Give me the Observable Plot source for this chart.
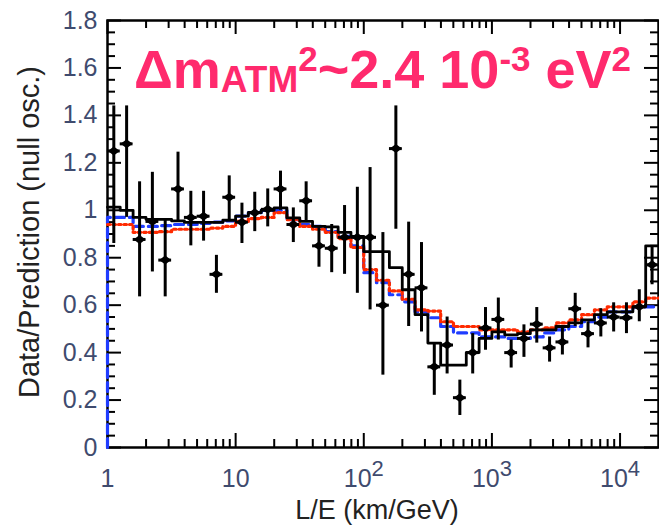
<!DOCTYPE html>
<html><head><meta charset="utf-8">
<script src="https://cdn.jsdelivr.net/npm/d3@7"></script>
<script src="https://cdn.jsdelivr.net/npm/@observablehq/plot@0.6"></script>
<style>
body{margin:0;background:#fff;}
svg{display:block;}
</style>
</head><body><div id="chart"></div>
<script>
// L/E bin centres (km/GeV)
const binCenters = [1.12, 1.41, 1.78, 2.24, 2.82, 3.55, 4.47, 5.62, 7.08, 8.91,
  11.2, 14.1, 17.8, 22.4, 28.2, 35.5, 44.7, 56.2, 70.8, 89.1,
  112, 141, 178, 224, 282, 355, 447, 562, 708, 891,
  1122, 1413, 1778, 2239, 2818, 3548, 4467, 5623, 7079, 8913,
  11220, 14130, 17780];
// Data/Prediction points with error bars
const dataValue = [1.25, 1.28, 0.877, 0.953, 0.79, 1.09, 0.97, 0.975, 0.73, 1.055,
  0.95, 0.99, 1.004, 1.09, 0.94, 1.04, 0.85, 0.84, 0.886, 0.886,
  0.886, 0.60, 1.26, 0.73, 0.673, 0.34, 0.432, 0.21, 0.40, 0.504,
  0.54, 0.40, 0.46, 0.52, 0.42, 0.445, 0.585, 0.48, 0.525, 0.55,
  0.547, 0.593, 0.77];
const errLow = [0.86, 0.97, 0.635, 0.74, 0.635, 0.95, 0.85, 0.87, 0.65, 0.96,
  0.86, 0.91, 0.93, 1.0, 0.864, 0.95, 0.76, 0.737, 0.73, 0.65,
  0.58, 0.305, 0.92, 0.51, 0.487, 0.22, 0.31, 0.135, 0.31, 0.41,
  0.453, 0.335, 0.38, 0.44, 0.36, 0.39, 0.51, 0.42, 0.466, 0.487,
  0.48, 0.53, 0.686];
const errHigh = [1.44, 1.44, 1.12, 1.16, 0.96, 1.245, 1.08, 1.08, 0.81, 1.145,
  1.03, 1.076, 1.09, 1.165, 1.01, 1.12, 0.93, 0.94, 1.02, 1.097,
  1.18, 0.906, 1.44, 0.95, 0.864, 0.44, 0.55, 0.284, 0.48, 0.59,
  0.63, 0.453, 0.517, 0.59, 0.466, 0.504, 0.65, 0.53, 0.585, 0.61,
  0.61, 0.665, 0.85];
// Step histograms (one value per bin)
const histBlack = [1.013, 1.0, 0.97, 0.962, 0.962, 0.955, 0.949, 0.949, 0.949, 0.958,
  0.975, 0.99, 1.0, 1.01, 0.968, 0.953, 0.932, 0.93, 0.907, 0.89,
  0.826, 0.826, 0.758, 0.665, 0.56, 0.44, 0.347, 0.347, 0.40, 0.46,
  0.487, 0.475, 0.48, 0.496, 0.496, 0.51, 0.525, 0.538, 0.56, 0.572,
  0.572, 0.593, 0.85];
const histBlue = [0.97, 0.97, 0.932, 0.932, 0.935, 0.94, 0.94, 0.945, 0.95, 0.955,
  0.975, 0.99, 1.0, 1.0, 0.96, 0.94, 0.932, 0.91, 0.89, 0.85,
  0.737, 0.695, 0.644, 0.614, 0.572, 0.547, 0.51, 0.483, 0.483, 0.466,
  0.466, 0.46, 0.46, 0.466, 0.483, 0.496, 0.51, 0.53, 0.55, 0.572,
  0.572, 0.593, 0.593];
const histRed = [0.94, 0.94, 0.907, 0.907, 0.91, 0.92, 0.92, 0.92, 0.925, 0.932,
  0.953, 0.965, 0.97, 0.99, 0.96, 0.932, 0.92, 0.907, 0.88, 0.843,
  0.75, 0.705, 0.66, 0.625, 0.58, 0.575, 0.53, 0.51, 0.51, 0.496,
  0.496, 0.496, 0.487, 0.496, 0.504, 0.525, 0.538, 0.56, 0.58, 0.593,
  0.593, 0.614, 0.63];
// Axes
const xDomain = [1, 19953];
const yDomain = [0, 1.8];
const xTicks = [1, 10, 100, 1000, 10000];
const xTickLabels = ["1", "10", "10^2", "10^3", "10^4"];
const xMinorTicks = [2,3,4,5,6,7,8,9,20,30,40,50,60,70,80,90,200,300,400,500,600,700,800,900,
  2000,3000,4000,5000,6000,7000,8000,9000];
const yTicks = [0, 0.2, 0.4, 0.6, 0.8, 1.0, 1.2, 1.4, 1.6, 1.8];
const yMinorTicks = [0.05,0.1,0.15,0.25,0.3,0.35,0.45,0.5,0.55,0.65,0.7,0.75,0.85,0.9,0.95,
  1.05,1.1,1.15,1.25,1.3,1.35,1.45,1.5,1.55,1.65,1.7,1.75];
const xLabel = "L/E (km/GeV)";
const yLabel = "Data/Prediction (null osc.)";

const W = 659, H = 525;
const mL = 107, mR = 1, mT = 20, mB = 78;
const pw = W - mL - mR, ph = H - mT - mB;
const font = "Liberation Sans, Arial, Helvetica, sans-serif";
const tickColor = "#3f4b6e";

const points = binCenters.map((x, i) => ({x, v: dataValue[i], lo: errLow[i], hi: errHigh[i]}));
function stepSeries(vals, fromZero) {
  const s = binCenters.map((x, i) => ({x, v: vals[i]}));
  const head = fromZero ? [{x: xDomain[0], v: 0}, {x: xDomain[0], v: vals[0]}] : [{x: xDomain[0], v: vals[0]}];
  return [...head, ...s, {x: xDomain[1], v: vals[vals.length - 1]}];
}
const halfBin = 1.122;
const diamond = {draw(ctx, size) { const w = 6, h = 4.5; ctx.moveTo(-w, 0); ctx.lineTo(0, -h); ctx.lineTo(w, 0); ctx.lineTo(0, h); ctx.closePath(); }};
const labelMap = new Map(xTicks.map((t, i) => [t, xTickLabels[i]]));

const svg = Plot.plot({
  width: W, height: H,
  marginLeft: mL, marginRight: mR, marginTop: mT, marginBottom: mB,
  style: {fontFamily: font, background: "#fff", overflow: "visible"},
  x: {type: "log", domain: xDomain, axis: null},
  y: {domain: yDomain, axis: null},
  marks: [
    // tick marks (inside the frame, on all four sides)
    Plot.ruleX(xTicks, {x: d => d, insetTop: ph - 14, stroke: "#000", strokeWidth: 2}),
    Plot.ruleX(xTicks, {x: d => d, insetBottom: ph - 14, stroke: "#000", strokeWidth: 2}),
    Plot.ruleX(xMinorTicks, {x: d => d, insetTop: ph - 8, stroke: "#000", strokeWidth: 2}),
    Plot.ruleX(xMinorTicks, {x: d => d, insetBottom: ph - 8, stroke: "#000", strokeWidth: 2}),
    Plot.ruleY(yTicks, {y: d => d, insetRight: pw - 14, stroke: "#000", strokeWidth: 2}),
    Plot.ruleY(yTicks, {y: d => d, insetLeft: pw - 14, stroke: "#000", strokeWidth: 2}),
    Plot.ruleY(yMinorTicks, {y: d => d, insetRight: pw - 8, stroke: "#000", strokeWidth: 2}),
    Plot.ruleY(yMinorTicks, {y: d => d, insetLeft: pw - 8, stroke: "#000", strokeWidth: 2}),
    Plot.frame({stroke: "#000", strokeWidth: 2.5}),
    // histograms
    Plot.line(stepSeries(histBlue, true), {x: "x", y: "v", curve: "step", stroke: "#1f3cff", strokeWidth: 3.2, strokeDasharray: "9,5"}),
    Plot.line(stepSeries(histRed, false), {x: "x", y: "v", curve: "step", stroke: "#ff2a00", strokeWidth: 3.2, strokeDasharray: "2.5,3"}),
    Plot.line(stepSeries(histBlack, false), {x: "x", y: "v", curve: "step", stroke: "#000", strokeWidth: 2.8}),
    // data points
    Plot.ruleX(points, {x: "x", y1: "lo", y2: "hi", stroke: "#000", strokeWidth: 3}),
    Plot.ruleY(points, {y: "v", x1: d => d.x / halfBin, x2: d => d.x * halfBin, stroke: "#000", strokeWidth: 3}),
    Plot.dot(points, {x: "x", y: "v", symbol: diamond, fill: "#000", stroke: "none", r: 5}),
    // axis tick labels
    Plot.axisX(xTicks, {anchor: "bottom", tickSize: 0, tickPadding: 22, tickFormat: d => labelMap.get(d), fontSize: 25, fill: tickColor, label: null}),
    Plot.axisY(yTicks, {anchor: "left", tickSize: 0, tickPadding: 10, tickFormat: d => String(+d.toFixed(1)), fontSize: 25, fill: tickColor, label: null}),
    // axis titles
    Plot.text([xLabel], {text: d => d, frameAnchor: "bottom", lineAnchor: "middle", textAnchor: "middle", dy: 63, dx: -6, fontSize: 27, fill: "#222"}),
    Plot.text([yLabel], {text: d => d, frameAnchor: "left", lineAnchor: "middle", textAnchor: "middle", dx: -78, dy: -2, rotate: -90, fontSize: 29, fill: "#222"})
  ]
});

// superscripts in x tick labels
d3.select(svg).selectAll('g[aria-label="x-axis tick label"] text').each(function() {
  const t = this.textContent;
  if (t.includes("^")) {
    const [b, e] = t.split("^");
    const s = d3.select(this);
    s.text(b);
    s.append("tspan").attr("dy", "-0.5em").attr("font-size", 22).text(e);
  }
});

// in-plot annotation
const ann = d3.select(svg).append("text")
  .attr("x", 134).attr("y", 88)
  .attr("text-anchor", "start")
  .attr("font-family", font).attr("font-weight", "bold")
  .attr("font-size", 54).attr("fill", "#ff2a6d");
ann.append("tspan").text("\u0394m");
ann.append("tspan").attr("font-size", 37).attr("dy", 4).text("ATM");
ann.append("tspan").attr("font-size", 35).attr("dy", -21).text("2");
ann.append("tspan").attr("dy", 17).text("~2.4 10");
ann.append("tspan").attr("font-size", 35).attr("dy", -17).text("-3");
ann.append("tspan").attr("dy", 17).text(" eV");
ann.append("tspan").attr("font-size", 35).attr("dy", -17).text("2");

document.getElementById("chart").appendChild(svg);
</script>
</body></html>
